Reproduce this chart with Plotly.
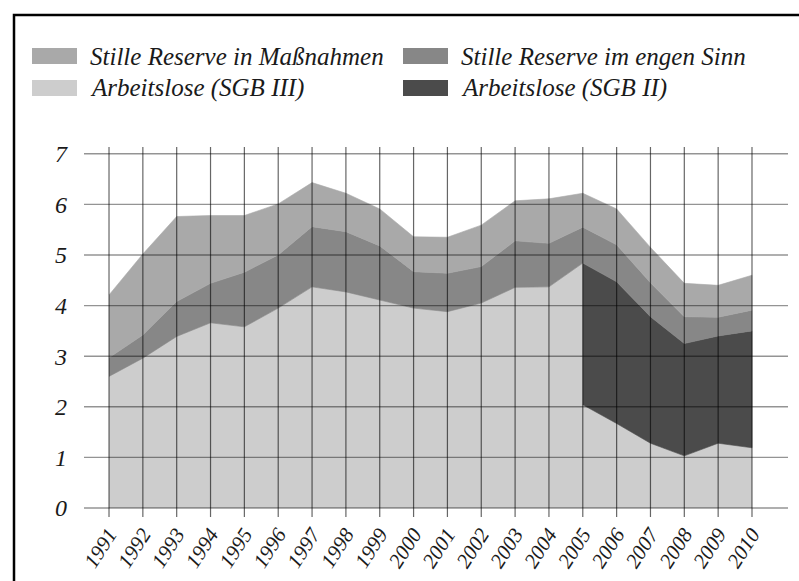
import plotly.graph_objects as go

# ---------------- data (millions) ----------------
jahre = list(range(1991, 2011))
arbeitslose_sgb3 = [2.60, 2.96, 3.39, 3.66, 3.58, 3.95, 4.37, 4.27, 4.11, 3.95,
                    3.88, 4.05, 4.36, 4.37, 2.04, 1.67, 1.28, 1.03, 1.28, 1.19]
arbeitslose_sgb2 = [None] * 14 + [2.80, 2.80, 2.50, 2.22, 2.12, 2.31]
stille_reserve_eng = [0.37, 0.46, 0.69, 0.78, 1.08, 1.05, 1.19, 1.19, 1.07, 0.72,
                      0.76, 0.72, 0.92, 0.86, 0.71, 0.73, 0.67, 0.53, 0.37, 0.41]
stille_reserve_massn = [1.24, 1.60, 1.68, 1.34, 1.12, 1.01, 0.87, 0.76, 0.73, 0.69,
                        0.71, 0.82, 0.79, 0.88, 0.67, 0.71, 0.70, 0.66, 0.63, 0.69]
y_ticks = [0, 1, 2, 3, 4, 5, 6, 7]

labels = ["Stille Reserve in Maßnahmen", "Stille Reserve im engen Sinn",
          "Arbeitslose (SGB III)", "Arbeitslose (SGB II)"]
colors = {"massn": "#a9a9a9", "eng": "#878787", "sgb3": "#cdcdcd", "sgb2": "#4b4b4b"}

# ---------------- stacking ----------------
sgb2_0 = [v if v is not None else 0 for v in arbeitslose_sgb2]
l_arb = [a + b for a, b in zip(arbeitslose_sgb3, sgb2_0)]
l_eng = [a + b for a, b in zip(l_arb, stille_reserve_eng)]
l_mas = [a + b for a, b in zip(l_eng, stille_reserve_massn)]
i05 = jahre.index(2005)

fig = go.Figure()
# SGB III: before 2005 all unemployed, break at 2005 (vertical drop)
x3 = jahre[:i05] + [2005] + jahre[i05:]
y3 = arbeitslose_sgb3[:i05] + [l_arb[i05]] + arbeitslose_sgb3[i05:]
fig.add_trace(go.Scatter(x=x3, y=y3, fill="tozeroy", mode="lines",
                         line=dict(width=0.6, color=colors["sgb3"]),
                         fillcolor=colors["sgb3"], name=labels[2], showlegend=False))
# SGB II band
xs2 = jahre[i05:]
fig.add_trace(go.Scatter(x=xs2 + xs2[::-1], y=l_arb[i05:] + arbeitslose_sgb3[i05:][::-1],
                         fill="toself", mode="lines",
                         line=dict(width=0.6, color=colors["sgb2"]),
                         fillcolor=colors["sgb2"], name=labels[3], showlegend=False))
# Stille Reserve im engen Sinn
fig.add_trace(go.Scatter(x=jahre + jahre[::-1], y=l_eng + l_arb[::-1],
                         fill="toself", mode="lines",
                         line=dict(width=0.6, color=colors["eng"]),
                         fillcolor=colors["eng"], name=labels[1], showlegend=False))
# Stille Reserve in Maßnahmen
fig.add_trace(go.Scatter(x=jahre + jahre[::-1], y=l_mas + l_eng[::-1],
                         fill="toself", mode="lines",
                         line=dict(width=0.6, color=colors["massn"]),
                         fillcolor=colors["massn"], name=labels[0], showlegend=False))

# ---------------- layout geometry ----------------
W, H = 799, 581
ML, MT = 84, 147
MR = W - 788
MB = H - 517
PW, PH = W - ML - MR, H - MT - MB


def px(x):
    return (x - ML) / PW


def py(y):
    return (H - MB - y) / PH


font_family = "Liberation Serif, Times New Roman, serif"
shapes = []
# grid lines drawn above the areas
for v in y_ticks:
    shapes.append(dict(type="line", xref="paper", yref="y", x0=0, x1=1, y0=v, y1=v,
                       line=dict(color="rgba(0,0,0,0.42)", width=1.4), layer="above"))
for yr in jahre:
    shapes.append(dict(type="line", xref="x", yref="paper", x0=yr, x1=yr, y0=0, y1=1,
                       line=dict(color="rgba(0,0,0,0.6)", width=1.2), layer="above"))
# frame (top and left edges visible) as one open path
frame_path = "M{:.5f},{:.5f} L{:.5f},{:.5f} L{:.5f},{:.5f}".format(
    px(14), py(H + 5), px(14), py(15), px(W + 5), py(15))
shapes.append(dict(type="path", xref="paper", yref="paper", path=frame_path,
                   line=dict(color="black", width=2.5), layer="above"))

# legend (custom swatches)
leg_items = [(labels[0], colors["massn"], 32, 56), (labels[1], colors["eng"], 403, 56),
             (labels[2], colors["sgb3"], 32, 88), (labels[3], colors["sgb2"], 403, 88)]
annotations = []
for text, col, x0, yc in leg_items:
    shapes.append(dict(type="rect", xref="paper", yref="paper",
                       x0=px(x0), x1=px(x0 + 45), y0=py(yc - 8), y1=py(yc + 8),
                       line=dict(width=0), fillcolor=col))
    annotations.append(dict(xref="paper", yref="paper", x=px(x0 + 56), y=py(yc),
                            xanchor="left", yanchor="middle", showarrow=False, text=text,
                            font=dict(family=font_family, size=25, style="italic", color="#1a1a1a")))

fig.update_layout(
    width=W, height=H,
    margin=dict(l=ML, r=MR, t=MT, b=MB, pad=0, autoexpand=False),
    paper_bgcolor="white", plot_bgcolor="white",
    showlegend=False,
    shapes=shapes, annotations=annotations,
    font=dict(family=font_family, style="italic", color="#1a1a1a"),
    xaxis=dict(range=[1990.261, 2011.064], tickvals=jahre, ticktext=[str(j) for j in jahre],
               tickangle=-57, showgrid=False, zeroline=False, showline=False, ticks="",
               automargin=False,
               tickfont=dict(family=font_family, size=21, style="italic"),
               ticklabelstandoff=0),
    yaxis=dict(range=[-0.178, 7.134], tickvals=y_ticks, showgrid=False, zeroline=False,
               showline=False, ticks="", ticklabelstandoff=16, automargin=False,
               tickfont=dict(family=font_family, size=24, style="italic")),
)

fig.write_html("out.html", config={"displayModeBar": False},
               post_script="document.body.style.margin='0';document.body.style.overflow='hidden';")
